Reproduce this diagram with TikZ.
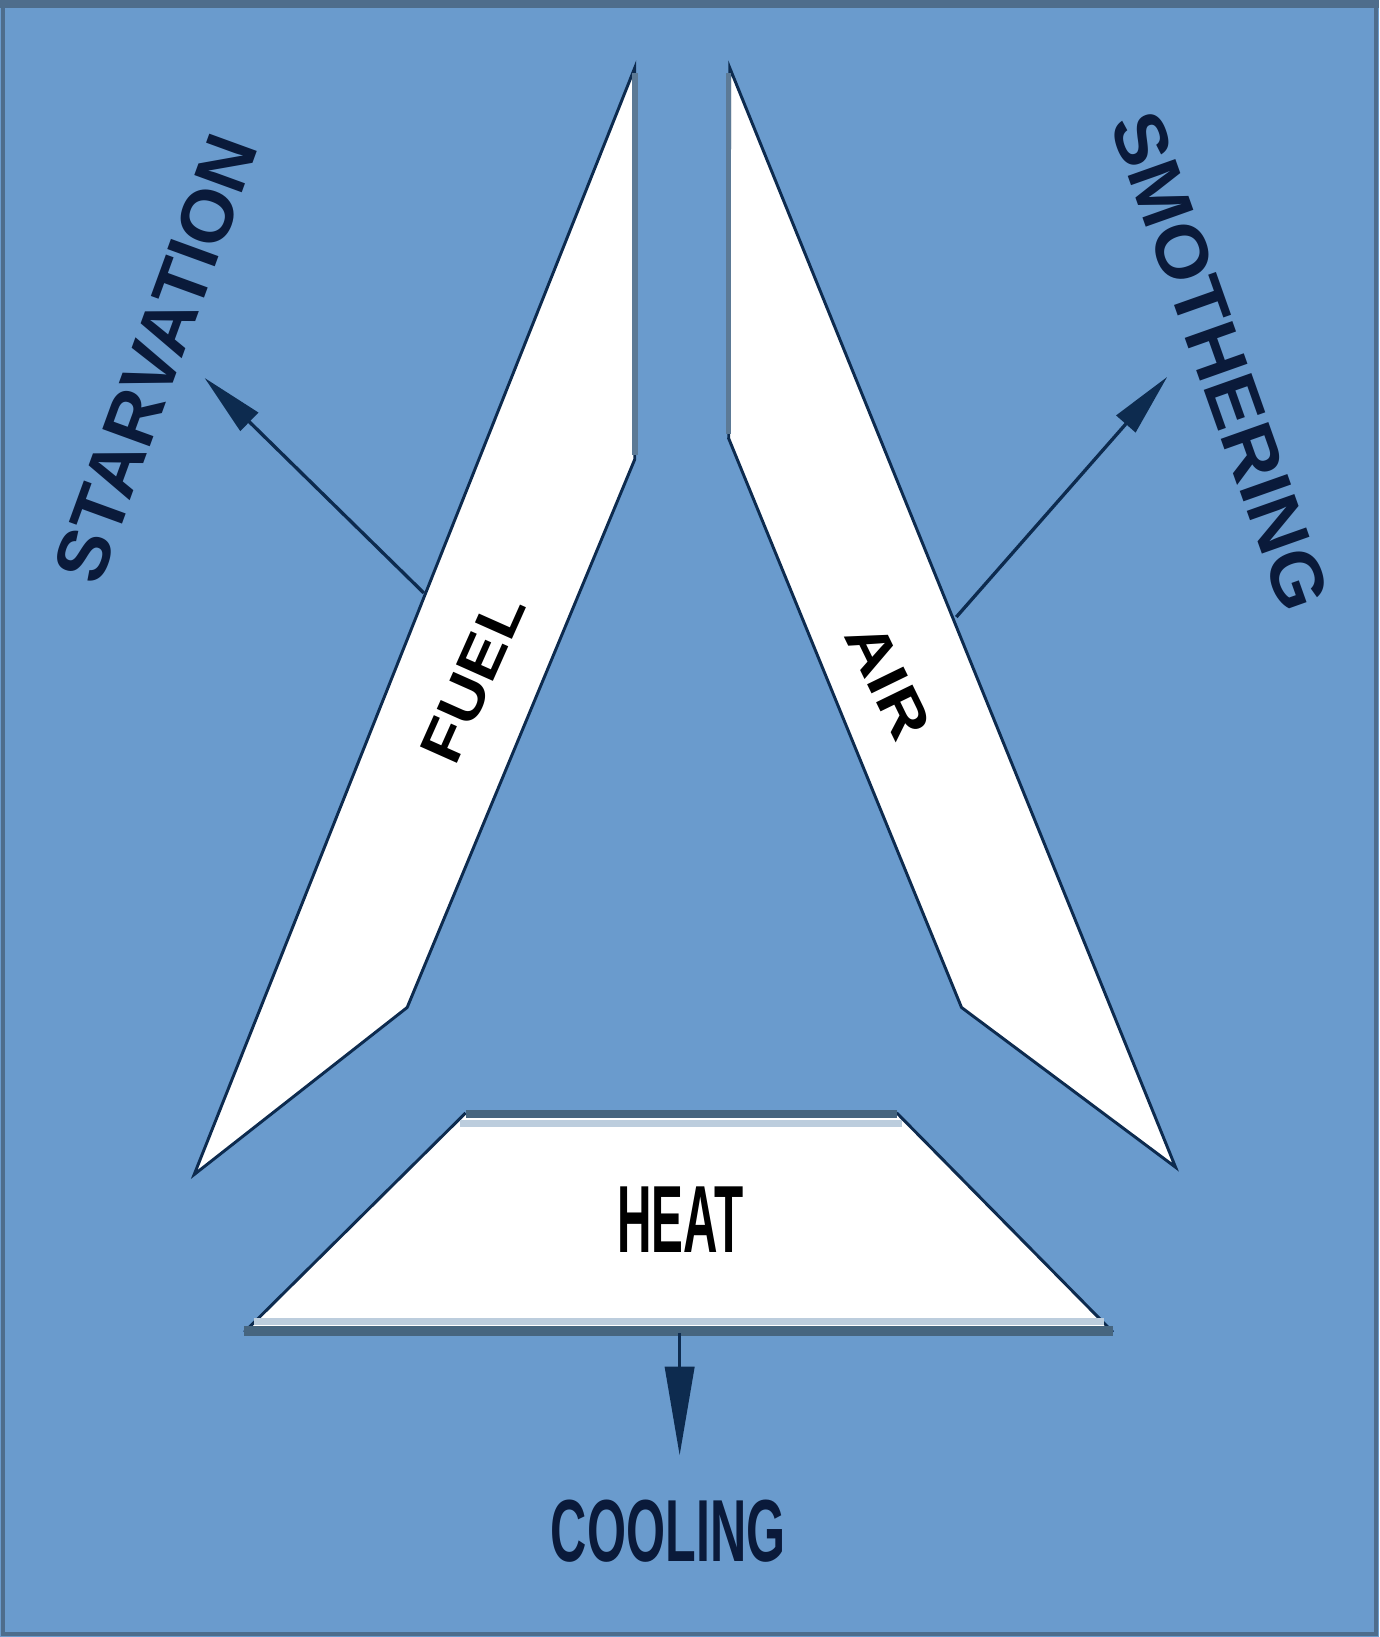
\documentclass[tikz,border=0pt]{standalone}
\usepackage{fontspec}
\setmainfont{Liberation Sans}
\usetikzlibrary{arrows.meta}
\definecolor{bg}{HTML}{6A9BCD}
\definecolor{framec}{HTML}{4E6D8C}
\definecolor{edgec}{HTML}{0D2B4F}
\definecolor{grayedge}{HTML}{5C7A96}
\definecolor{navy}{HTML}{0A1A3A}
\definecolor{bandc}{HTML}{46657F}
\definecolor{lightband}{HTML}{BCCDDD}
\begin{document}
\begin{tikzpicture}[x=0.01cm,y=-0.01cm,
  panel/.style={fill=white, draw=edgec, line width=0.8pt, line join=miter},
  lbl/.style={inner sep=0pt, text=navy},
  arr/.style={draw=edgec, line width=0.9pt, -{Triangle[length=0.6cm,width=0.24cm]}}]
\fill[bg] (0,0) rectangle (1321,1568);
\useasboundingbox (0,0) rectangle (1321,1568);
\draw[framec, line width=1.2pt] (3,3) rectangle (1318,1565);
\fill[framec] (0,0) rectangle (1321,8);

% FUEL panel
\path[panel] (608,65) -- (608,440) -- (390,965) -- (186,1125) -- cycle;
\draw[grayedge, line width=1.5pt] (608,70) -- (608,436);
% AIR panel
\path[panel] (699,65) -- (1126,1118) -- (921,965) -- (698,420) -- cycle;
\draw[grayedge, line width=1.5pt] (698,70) -- (698,416);
% HEAT panel
\fill[white] (446,1066) -- (859,1066) -- (1066,1276) -- (234,1276) -- cycle;
\draw[edgec, line width=0.8pt] (446,1066) -- (234,1276);
\draw[edgec, line width=0.8pt] (859,1066) -- (1066,1276);
\draw[lightband, line width=2pt] (441,1076) -- (864,1076);
\draw[bandc, line width=2.3pt] (446,1067) -- (859,1067);
\draw[lightband, line width=2pt] (243,1266) -- (1057,1266);
\draw[bandc, line width=2.6pt] (234,1275) -- (1066,1275);

% labels
\node[lbl, text=black, rotate=66, xscale=1.15, font=\bfseries\fontsize{16pt}{18pt}\selectfont] (fuel) at (453,650) {FUEL};
\node[lbl, text=black, rotate=-64, xscale=1.2, font=\bfseries\fontsize{16pt}{18pt}\selectfont] (air) at (851,652) {AIR};
\node[lbl, text=black, xscale=0.5, font=\bfseries\fontsize{26pt}{30pt}\selectfont] (heat) at (652,1168) {HEAT};
\node[lbl, xscale=0.57, font=\bfseries\fontsize{24pt}{28pt}\selectfont] (cooling) at (640,1467) {COOLING};
\node[lbl, rotate=70, xscale=1.02, font=\bfseries\fontsize{20pt}{24pt}\selectfont] (starv) at (149,343) {STARVATION};
\node[lbl, rotate=-70.5, xscale=1.05, font=\bfseries\fontsize{20pt}{24pt}\selectfont] (smoth) at (1169,346) {SMOTHERING};

% arrows
\coordinate (s0) at (406,568);
\coordinate (s1) at (196,362);
\coordinate (m0) at (916,591);
\coordinate (m1) at (1118,361);
\coordinate (c0) at (651,1277);
\coordinate (c1) at (651,1394);
\draw[arr] (s0) -- (s1);
\draw[arr] (m0) -- (m1);
\draw[arr, -{Triangle[length=0.85cm,width=0.28cm]}] (c0) -- (c1);
\end{tikzpicture}
\end{document}
